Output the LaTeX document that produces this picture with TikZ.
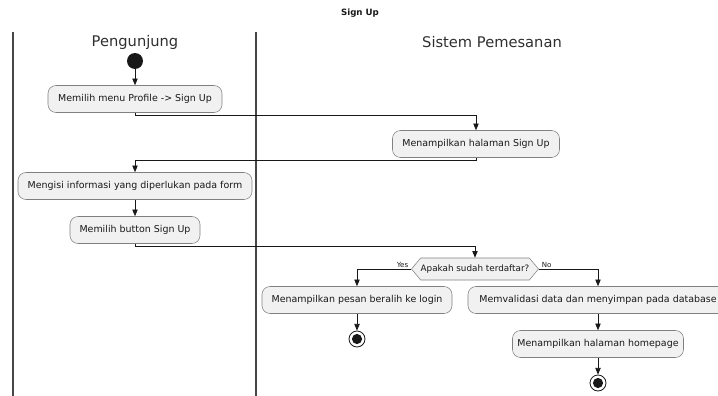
\documentclass[tikz,border=0pt]{standalone}
\usepackage{fontspec}
\setmainfont{DejaVu Sans}
\usetikzlibrary{arrows.meta,calc,shapes.symbols}
\definecolor{boxfill}{HTML}{F1F1F1}
\definecolor{ink}{HTML}{181818}
\begin{document}
\begin{tikzpicture}[x=0.75pt,y=-0.75pt,
  act/.style={draw=ink!55, fill=boxfill, rounded corners=6pt, minimum height=20.25pt, inner sep=0pt, font=\fontsize{7.1}{8.5}\selectfont, text=ink},
  arr/.style={draw=ink, line width=0.6pt, -{Triangle[length=5pt,width=4pt]}},
  lane/.style={draw=ink!80, line width=1pt},
  hdr/.style={font=\fontsize{11}{13}\selectfont, text=ink!90},
  lbl/.style={font=\fontsize{5.3}{6}\selectfont, text=ink, inner sep=1pt},
  startdot/.style={circle, fill=ink, minimum size=12pt, inner sep=0pt},
  enddot/.style={circle, draw=ink, line width=0.6pt, fill=white, minimum size=12pt, inner sep=0pt},
  decision/.style={signal, signal to=east and west, signal pointer angle=100, draw=ink!55, fill=boxfill, minimum width=93pt, minimum height=16.5pt, inner sep=0pt, font=\fontsize{6.6}{8}\selectfont, text=ink},
]
\useasboundingbox (0,0) rectangle (718,396);
\clip (0,0) rectangle (718,396);
\node[font=\bfseries\fontsize{6.5}{8}\selectfont, text=ink] (title) at (360,13) {Sign Up};
\coordinate (l1t) at (13,32); \coordinate (l1b) at (13,396);
\coordinate (l2t) at (256,32); \coordinate (l2b) at (256,396);
\draw[lane] (l1t) -- (l1b);
\draw[lane] (l2t) -- (l2b);
\node[hdr] (h1) at (135,42) {Pengunjung};
\node[hdr] (h2) at (492,42) {Sistem Pemesanan};

\node[startdot] (start) at (135,61) {};
\node[act, minimum width=130.5pt] (b1) at (135,99) {Memilih menu Profile -> Sign Up};
\node[act, minimum width=125.25pt] (b2) at (476,144) {Menampilkan halaman Sign Up};
\node[act, minimum width=175.5pt] (b3) at (135,186) {Mengisi informasi yang diperlukan pada form};
\node[act, minimum width=97.5pt] (b4) at (135,230) {Memilih button Sign Up};
\node[decision] (dec) at (475,269) {Apakah sudah terdaftar?};
\node[act, minimum width=142.5pt] (b5) at (357,300) {Menampilkan pesan beralih ke login};
\node[act, minimum width=195pt] (b6) at (598,300) {Memvalidasi data dan menyimpan pada database};
\node[act, minimum width=128.25pt] (b7) at (598,344) {Menampilkan halaman homepage};
\node[enddot] (e1) at (357,339) {};
\fill[ink] (e1.center) circle (3.8pt);
\node[enddot] (e2) at (598,383) {};
\fill[ink] (e2.center) circle (3.8pt);

\draw[arr] (start) -- (b1);
\draw[arr] (b1.south) -- ++(0,3) -| (b2.north);
\draw[arr] (b2.south) -- ++(0,3) -| (b3.north);
\draw[arr] (b3) -- (b4);
\draw[arr] (b4.south) -- ++(0,3) -| (dec.north);
\draw[arr] (dec.west) -| (b5.north);
\draw[arr] (dec.east) -| (b6.north);
\node[lbl, anchor=south east] (yes) at ([xshift=-1pt]dec.west) {Yes};
\node[lbl, anchor=south west] (no) at ([xshift=1pt]dec.east) {No};
\draw[arr] (b5) -- (e1);
\draw[arr] (b6) -- (b7);
\draw[arr] (b7) -- (e2);
\end{tikzpicture}
\end{document}
